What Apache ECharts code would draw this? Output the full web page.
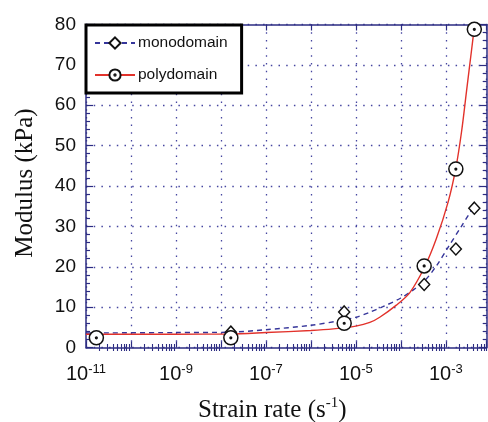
<!DOCTYPE html>
<html>
<head>
<meta charset="utf-8">
<script src="https://cdn.jsdelivr.net/npm/echarts@6/dist/echarts.min.js"></script>
<style>
html,body{margin:0;padding:0;background:#fff;}
#chart{width:488px;height:422px;}
</style>
</head>
<body>
<div id="chart"></div>
<script>
// ---- data (strain rate in s^-1, modulus in kPa) ----
const seriesNames = ['monodomain', 'polydomain'];
const monoRate = [1.66e-8, 5.5e-6, 3.3e-4, 1.67e-3, 4.3e-3];
const monoModulus = [3.8, 8.8, 15.6, 24.4, 34.5];
const polyRate = [1.7e-11, 1.66e-8, 5.5e-6, 3.3e-4, 1.67e-3, 4.3e-3];
const polyModulus = [2.4, 2.4, 6.0, 20.2, 44.2, 78.8];
// fitted curves: exponent of strain rate, modulus
const monoFitExp = [-11, -9, -7.8, -7, -6, -5.38, -5, -4.7, -4.4, -4.01, -3.68, -3.45, -3.21, -2.95, -2.66, -2.4];
const monoFitModulus = [3.6, 3.7, 3.8, 4.4, 5.5, 6.6, 7.5, 8.7, 10.1, 12.2, 14.6, 16.8, 20.2, 24.8, 29.9, 34.5];
const polyFitExp = [-11, -9, -7.8, -7, -6, -5.5, -5, -4.69, -4.47, -4.1, -3.8, -3.47, -3.21, -2.95, -2.78, -2.65, -2.54, -2.43, -2.37];
const polyFitModulus = [3.3, 3.3, 3.35, 3.7, 4.2, 4.6, 5.3, 6.2, 7.5, 10.5, 13.6, 20.0, 27.0, 36.0, 44.3, 53.5, 63.5, 73.5, 79.0];
// axes
const xMinRate = 1e-11, xMaxRate = 8.1e-3;
const xLabelExps = [-11, -9, -7, -5, -3];
const yMin = 0, yMax = 80, yStep = 10;
const xTitle = 'Strain rate (s';
const yTitle = 'Modulus (kPa)';

const AX = '#2c2c82';
const GRID = '#4646a0';
const xMin = Math.log10(xMinRate), xMax = Math.log10(xMaxRate);
const minorX = [];
for (let d = Math.floor(xMin); d <= Math.ceil(xMax); d++) {
  for (let k = 2; k <= 9; k++) {
    const v = d + Math.log10(k);
    if (v > xMin && v < xMax) minorX.push(v);
  }
}
const pair = (xs, ys, conv) => xs.map((x, i) => [conv ? Math.log10(x) : x, ys[i]]);
const circleDot = 'path://M0,10A10,10,0,1,1,20,10A10,10,0,1,1,0,10ZM8.8,10A1.2,1.2,0,1,1,11.2,10A1.2,1.2,0,1,1,8.8,10Z';
const FONT = '"Liberation Sans", Arial, Helvetica, sans-serif';
const SERIF = '"Liberation Serif", "Times New Roman", serif';

const baseX = {
  type: 'value', min: xMin, max: xMax, interval: 1,
  axisLine: { show: true, onZero: false, lineStyle: { color: AX, width: 1.5 } },
  axisTick: { show: true, inside: true, length: 6, lineStyle: { color: AX, width: 1.2 } },
  axisLabel: { show: false },
  splitLine: { show: false }
};
const baseY = {
  type: 'value', min: yMin, max: yMax, interval: yStep,
  axisLine: { show: true, onZero: false, lineStyle: { color: AX, width: 1.5 } },
  axisTick: { show: true, inside: true, length: 7, lineStyle: { color: AX, width: 1.2 } },
  minorTick: { show: true, splitNumber: 5, length: 4, lineStyle: { color: AX, width: 1.2 } },
  axisLabel: { show: false },
  splitLine: { show: false }
};

const chart = echarts.init(document.getElementById('chart'), null, { renderer: 'canvas' });
chart.setOption({
  animation: false,
  backgroundColor: '#fff',
  grid: { left: 86, right: 1.3, top: 24.5, bottom: 74.5, containLabel: false },
  xAxis: [
    Object.assign({}, baseX, {
      position: 'bottom',
      splitLine: { show: true, lineStyle: { color: GRID, type: [1.5, 6.2], width: 1.3 } },
      axisLabel: {
        show: true, margin: 15, customValues: xLabelExps,
        formatter: v => '{b|10}{s|' + Math.round(v) + '}',
        rich: {
          b: { fontFamily: FONT, fontSize: 20, color: '#111', lineHeight: 24 },
          s: { fontFamily: FONT, fontSize: 13, color: '#111', lineHeight: 13, verticalAlign: 'top' }
        }
      }
    }),
    Object.assign({}, baseX, {
      position: 'bottom', axisLine: { show: false },
      axisTick: { show: true, inside: true, length: 3.5, customValues: minorX, lineStyle: { color: AX, width: 1.1 } }
    }),
    Object.assign({}, baseX, { position: 'top' }),
    Object.assign({}, baseX, {
      position: 'top', axisLine: { show: false },
      axisTick: { show: true, inside: true, length: 3.5, customValues: minorX, lineStyle: { color: AX, width: 1.1 } }
    })
  ],
  yAxis: [
    Object.assign({}, baseY, {
      position: 'left',
      splitLine: { show: true, lineStyle: { color: GRID, type: [1.5, 6.2], width: 1.3 } },
      axisLabel: { show: true, margin: 10, fontFamily: FONT, fontSize: 19, color: '#111' }
    }),
    Object.assign({}, baseY, { position: 'right' })
  ],
  legend: {
    data: seriesNames,
    orient: 'vertical', left: 86, top: 25,
    backgroundColor: '#fff', borderColor: '#000', borderWidth: 3, borderRadius: 0,
    padding: [10, 14, 10, 8],
    itemWidth: 40, itemHeight: 14, itemGap: 16,
    textStyle: { fontFamily: FONT, fontSize: 15.5, color: '#111', padding: [0, 0, 0, -2] },
    selectedMode: false
  },
  graphic: [
    {
      type: 'text', left: 198, top: 396, silent: true,
      style: {
        text: '{t|' + xTitle + '}{s|-1}{t|)}',
        rich: {
          t: { fontFamily: SERIF, fontSize: 25, fill: '#111', lineHeight: 28 },
          s: { fontFamily: SERIF, fontSize: 15, fill: '#111', lineHeight: 15, verticalAlign: 'top' }
        }
      }
    },
    {
      type: 'text', x: 25, y: 183, rotation: Math.PI / 2, silent: true,
      style: { text: yTitle, fontFamily: SERIF, fontSize: 25, fill: '#111', align: 'center', verticalAlign: 'middle' }
    }
  ],
  series: [
    {
      name: 'monodomain', type: 'line', xAxisIndex: 0, yAxisIndex: 0,
      data: pair(monoFitExp, monoFitModulus, false),
      smooth: 0.3,
      symbol: 'diamond', showSymbol: false,
      itemStyle: { color: '#fff', borderColor: '#111', borderWidth: 1.4 },
      lineStyle: { color: '#35359a', width: 1.4, type: [5, 4] },
      z: 3
    },
    {
      name: 'polydomain', type: 'line', xAxisIndex: 0, yAxisIndex: 0,
      data: pair(polyFitExp, polyFitModulus, false),
      smooth: 0.3,
      symbol: circleDot, showSymbol: false,
      itemStyle: { color: '#fff', borderColor: '#111', borderWidth: 1.4 },
      lineStyle: { color: '#e2322b', width: 1.4 },
      z: 3
    },
    {
      name: 'mono-points', type: 'scatter', xAxisIndex: 0, yAxisIndex: 0,
      data: pair(monoRate, monoModulus, true),
      symbol: 'diamond', symbolSize: [11, 12],
      itemStyle: { color: '#fff', borderColor: '#111', borderWidth: 1.5, opacity: 1 },
      z: 4
    },
    {
      name: 'poly-points', type: 'scatter', xAxisIndex: 0, yAxisIndex: 0,
      data: pair(polyRate, polyModulus, true),
      symbol: circleDot, symbolSize: 14,
      itemStyle: { color: '#fff', borderColor: '#111', borderWidth: 1.5, opacity: 1 },
      z: 5
    }
  ]
});
</script>
</body>
</html>
